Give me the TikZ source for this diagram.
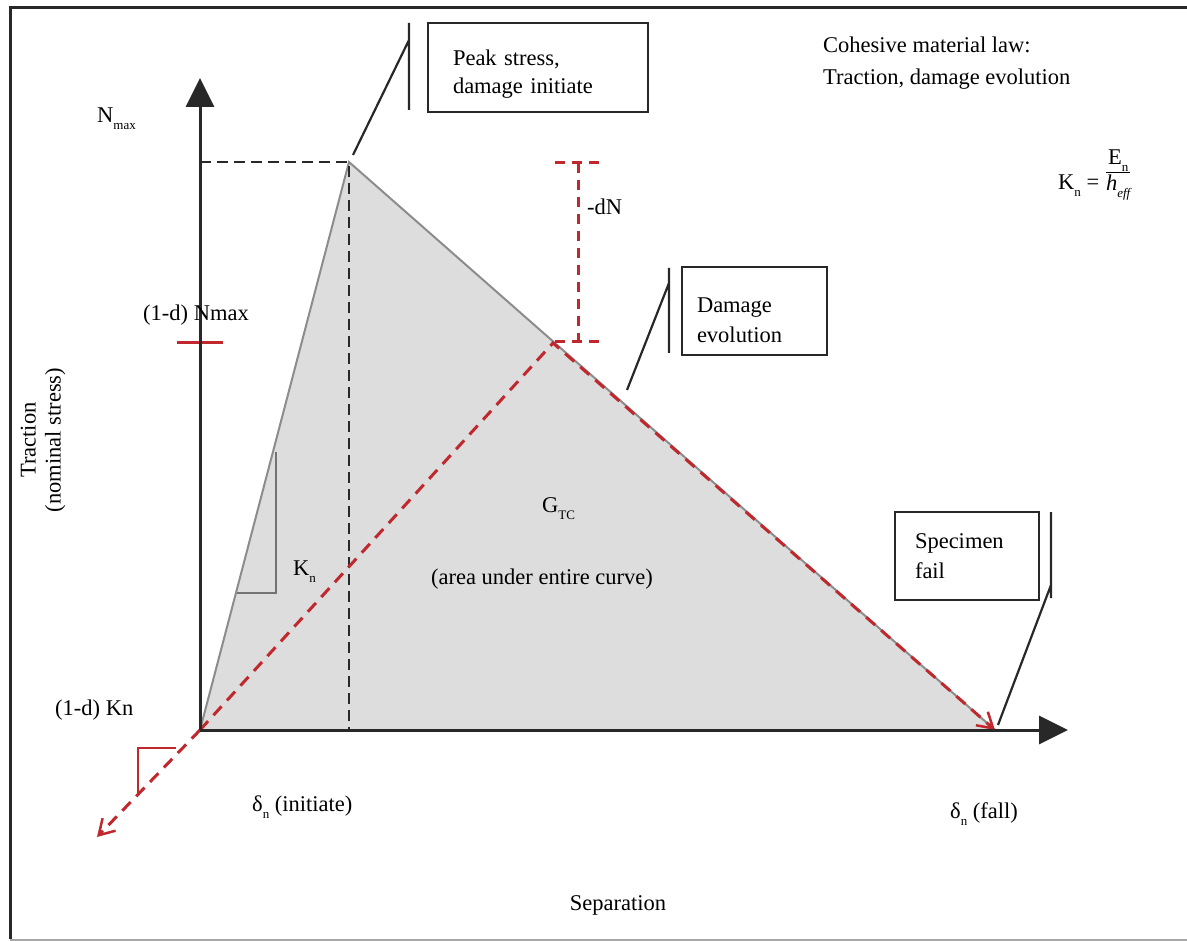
\documentclass[tikz,border=0pt]{standalone}
\usepackage{amsmath}
\usepackage{fontspec}
\setmainfont{Liberation Serif}
\usetikzlibrary{arrows.meta}
\definecolor{cred}{RGB}{192,40,45}
\definecolor{cfill}{RGB}{221,221,221}
\definecolor{cgray}{RGB}{140,140,140}
\definecolor{caxis}{RGB}{40,40,40}
\newcommand\lowsub[1]{\raisebox{-7pt}{\fontsize{13}{13}\selectfont #1}}
\begin{document}
\begin{tikzpicture}[x=1pt,y=-1pt,
  every node/.style={inner sep=0pt},
  lbl/.style={font=\fontsize{22.5}{30}\selectfont},
  callbox/.style={draw=caxis, line width=2.2pt, lbl, align=left, minimum height=88pt},
  callline/.style={draw=caxis, line width=2.2pt},
  blackdash/.style={draw=caxis, line width=2.8pt, dash pattern=on 11pt off 6pt},
  reddash/.style={draw=cred, line width=3pt, dash pattern=on 12pt off 8pt},
  redtip/.style={-{Straight Barb[length=15pt,width=18pt,line width=2.5pt]}},
  axis/.style={draw=caxis, line width=3pt, -{Triangle[length=29pt,width=28pt]}}]
\useasboundingbox (0,0) rectangle (1187,941);
% frame
\draw[line width=3pt, caxis] (1187,8) -- (10,8) -- (10,939);
\draw[line width=2pt, black!35] (10,939.5) -- (1187,939.5);
% key points
\coordinate (O) at (200,730);
\coordinate (P) at (349,162);
\coordinate (F) at (995,730);
\coordinate (D) at (553,343);
\coordinate (Ytop) at (200,78);
\coordinate (Xend) at (1068,730);
\coordinate (Ny) at (200,162);
\coordinate (Px) at (349,730);
\coordinate (Rback) at (97,837);
% area
\fill[cfill] (O) -- (P) -- (F) -- cycle;
\draw[cgray, line width=2pt] (O) -- (P) -- (F);
% Kn slope triangle
\coordinate (ka) at (237,593);
\coordinate (kb) at (276,593);
\coordinate (kc) at (276,452);
\draw[black!55, line width=2pt] (ka) -- (kb) -- (kc);
% black dashed guides
\draw[blackdash] (Ny) -- (P) -- (Px);
% red dashed unloading path
\draw[reddash, redtip] (O) -- (D) -- (F);
\draw[reddash, redtip] (O) -- (Rback);
% red slope triangle
\coordinate (ra) at (176,748);
\coordinate (rb) at (138,748);
\coordinate (rc) at (138,793);
\draw[cred, line width=2.5pt] (ra) -- (rb) -- (rc);
% red tick on axis
\coordinate (ta) at (177,343);
\coordinate (tb) at (223,343);
\draw[cred, line width=3pt] (ta) -- (tb);
% -dN marker
\coordinate (dn1) at (555,163);
\coordinate (dn2) at (600,163);
\coordinate (dn3) at (578,163);
\coordinate (dn4) at (578,342);
\coordinate (dn5) at (555,342);
\coordinate (dn6) at (600,342);
\draw[cred, line width=3pt, dash pattern=on 10pt off 7pt] (dn1) -- (dn2) (dn3) -- (dn4) (dn5) -- (dn6);
% axes
\draw[axis] (O) -- (Ytop);
\draw[axis] (O) -- (Xend);
% callout: peak
\node[callbox, text width=170pt, inner xsep=25pt, minimum height=89pt] (peak) at (538,67.5) {\rule{0pt}{28pt}Peak stress,\\[-2pt]damage initiate};
\coordinate (pv1) at (409,23);
\coordinate (pv2) at (409,110);
\coordinate (pd1) at (409,40);
\coordinate (pd2) at (353,155);
\draw[callline] (pv1) -- (pv2) (pd1) -- (pd2);
% callout: damage evolution
\node[callbox, text width=115pt, inner xsep=15pt] (evo) at (754.5,311) {\rule{0pt}{34pt}Damage\\evolution};
\coordinate (ev1) at (669,268);
\coordinate (ev2) at (669,353);
\coordinate (ed1) at (669,283);
\coordinate (ed2) at (627,390);
\draw[callline] (ev1) -- (ev2) (ed1) -- (ed2);
% callout: specimen fail
\node[callbox, text width=104pt, inner xsep=20pt] (fail) at (967,556) {Specimen\\fail};
\coordinate (fv1) at (1051,512);
\coordinate (fv2) at (1051,598);
\coordinate (fd1) at (1051,585);
\coordinate (fd2) at (998,725);
\draw[callline] (fv1) -- (fv2) (fd1) -- (fd2);
% texts
\node[lbl, anchor=west, align=left, font=\fontsize{22.5}{32}\selectfont] (title) at (823,63) {Cohesive material law:\\Traction, damage evolution};
\node[lbl, anchor=base west] (formula) at (1058,190) {K\lowsub{n} = \raisebox{12pt}{$\genfrac{}{}{1.2pt}{1}{\mbox{E\lowsub{n}}}{\mbox{\itshape h\lowsub{eff}}}$}};
\node[lbl, anchor=base west] (nmax) at (97,123) {N\lowsub{max}};
\node[lbl, anchor=base west] (dnmax) at (143,321) {(1-d) Nmax};
\node[lbl, anchor=base west] (dkn) at (55,715) {(1-d) Kn};
\node[lbl, anchor=base west] (kn) at (293,575) {K\lowsub{n}};
\node[lbl, anchor=base west] (dNl) at (587,215) {-dN};
\node[lbl, anchor=base west] (gtc) at (542,512) {G\lowsub{TC}};
\node[lbl, anchor=base] (area) at (542,584) {(area under entire curve)};
\node[lbl, anchor=base west] (dinit) at (252,811) {δ\lowsub{n} (initiate)};
\node[lbl, anchor=base west] (dfall) at (950,818) {δ\lowsub{n} (fall)};
\node[lbl, anchor=base] (sep) at (618,910) {Separation};
\node[lbl, rotate=90, align=center, font=\fontsize{22.5}{25}\selectfont] (trac) at (43,440) {Traction\\(nominal stress)};
\end{tikzpicture}
\end{document}
